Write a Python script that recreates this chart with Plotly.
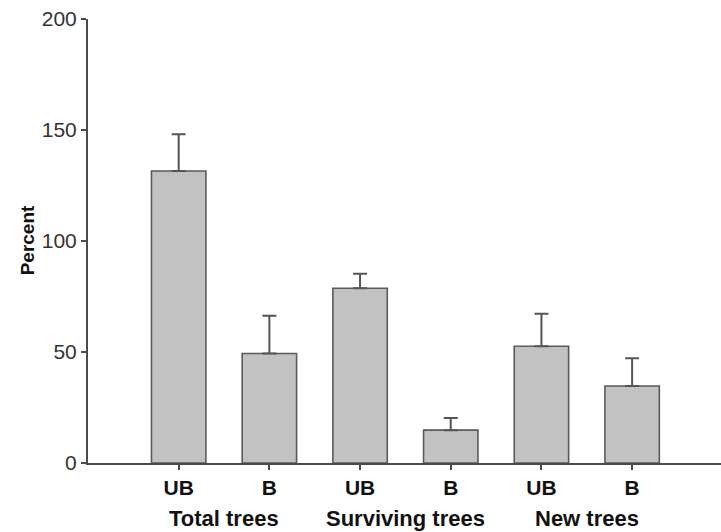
import plotly.graph_objects as go

# Tree counts relative to baseline, unburned (UB) vs burned (B)
groups = ["Total trees", "Surviving trees", "New trees"]
treatments = ["UB", "B", "UB", "B", "UB", "B"]
percent = [131.5, 49.3, 78.7, 14.8, 52.6, 34.7]
error_upper = [16.6, 17.0, 6.5, 5.5, 14.6, 12.5]

positions = list(range(len(treatments)))
bar_fill = "#c2c2c2"
ink = "#4a4a4a"
font_family = "Liberation Sans, Arial, sans-serif"

fig = go.Figure(
    go.Bar(
        x=positions,
        y=percent,
        width=0.6,
        marker=dict(color=bar_fill, line=dict(color="#5a5a5a", width=1.6)),
        error_y=dict(
            type="data",
            array=error_upper,
            arrayminus=[0] * len(error_upper),
            symmetric=False,
            color="#555555",
            thickness=2,
            width=7,
        ),
        showlegend=False,
    )
)

# Group labels under each pair of bars
for i, name in enumerate(groups):
    fig.add_annotation(
        x=2 * i + 0.5,
        y=-0.125,
        xref="x",
        yref="paper",
        text=f"<b>{name}</b>",
        showarrow=False,
        font=dict(family=font_family, size=22, color="#111111"),
        xanchor="center",
        yanchor="middle",
    )

# Y-axis title
fig.add_annotation(
    x=-0.096,
    y=0.502,
    xref="paper",
    yref="paper",
    text="<b>Percent</b>",
    textangle=-90,
    showarrow=False,
    font=dict(family=font_family, size=19, color="#111111"),
    xanchor="center",
    yanchor="middle",
)

fig.update_layout(
    width=721,
    height=532,
    margin=dict(l=88, r=0, t=19, b=69),
    paper_bgcolor="white",
    plot_bgcolor="white",
    bargap=0.4,
    font=dict(family=font_family, color="#222222"),
    xaxis=dict(
        range=[-1.0, 5.98],
        tickmode="array",
        tickvals=positions,
        ticktext=[f"<b>{t}</b>" for t in treatments],
        tickfont=dict(size=21, color="#111111"),
        showline=True,
        linecolor=ink,
        linewidth=2,
        ticks="outside",
        ticklen=5,
        tickwidth=2,
        tickcolor=ink,
        showgrid=False,
        zeroline=False,
        fixedrange=True,
    ),
    yaxis=dict(
        range=[0, 200],
        tickmode="array",
        tickvals=[0, 50, 100, 150, 200],
        tickfont=dict(size=21, color="#333333"),
        showline=True,
        linecolor=ink,
        linewidth=2,
        ticks="outside",
        ticklen=5,
        tickwidth=2,
        tickcolor=ink,
        showgrid=False,
        zeroline=False,
        fixedrange=True,
    ),
)

fig.write_html("out.html")
